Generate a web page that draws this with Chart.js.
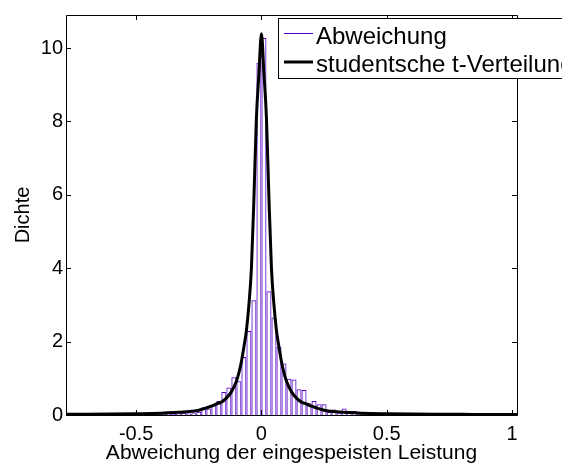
<!DOCTYPE html>
<html lang="de">
<head>
    <meta charset="UTF-8">
    <title>Abweichung der eingespeisten Leistung</title>
    <script src="https://cdn.jsdelivr.net/npm/chart.js"></script>
    <style>
        html, body { margin: 0; padding: 0; background: #fff; }
        #chart-container { width: 562px; height: 465px; }
    </style>
</head>
<body>
    <div id="chart-container">
        <canvas id="densityChart"></canvas>
    </div>

    <script>
        // Histogramm: Klassenmitten (Klassenbreite 0.02) und Dichte
        const binCenters = [
            -0.77, -0.75, -0.73, -0.71, -0.69, -0.67, -0.65, -0.63, -0.61, -0.59,
            -0.57, -0.55, -0.53, -0.51, -0.49, -0.47, -0.45, -0.43, -0.41, -0.39,
            -0.37, -0.35, -0.33, -0.31, -0.29, -0.27, -0.25, -0.23, -0.21, -0.19,
            -0.17, -0.15, -0.13, -0.11, -0.09, -0.07, -0.05, -0.03, -0.01,
            0.01, 0.03, 0.05, 0.07, 0.09, 0.11, 0.13, 0.15, 0.17, 0.19,
            0.21, 0.23, 0.25, 0.27, 0.29, 0.31, 0.33, 0.35, 0.37, 0.39,
            0.41, 0.43, 0.45, 0.47, 0.49, 0.51, 0.53, 0.55, 0.57, 0.59
        ];
        const binDensity = [
            0.01, 0.00, 0.01, 0.00, 0.01, 0.01, 0.00, 0.01, 0.01, 0.01,
            0.01, 0.02, 0.01, 0.02, 0.02, 0.01, 0.02, 0.03, 0.02, 0.03,
            0.04, 0.03, 0.04, 0.06, 0.04, 0.05, 0.09, 0.21, 0.18, 0.29,
            0.38, 0.63, 0.75, 1.03, 0.92, 1.58, 2.29, 3.13, 9.60,
            10.27, 3.37, 2.66, 1.85, 1.40, 0.99, 0.97, 0.70, 0.68, 0.32,
            0.38, 0.29, 0.29, 0.09, 0.15, 0.05, 0.18, 0.11, 0.11, 0.03,
            0.02, 0.03, 0.06, 0.02, 0.02, 0.01, 0.01, 0.01, 0.03, 0.01
        ];

        const curveX = [
            -0.78, -0.7, -0.6, -0.5, -0.4, -0.35, -0.3, -0.25, -0.2, -0.18, -0.16, -0.14, -0.12,
            -0.1, -0.09, -0.08, -0.07, -0.06, -0.05, -0.04, -0.03, -0.02, -0.01,
            0,
            0.01, 0.02, 0.03, 0.04, 0.05, 0.06, 0.07, 0.08, 0.09, 0.1,
            0.12, 0.14, 0.16, 0.18, 0.2, 0.25, 0.3, 0.35, 0.4, 0.5, 0.6, 0.7, 0.8, 0.9, 1.02
        ];
        const curveY = [
            0.02, 0.02, 0.025, 0.035, 0.05, 0.065, 0.09, 0.13, 0.24, 0.30, 0.35, 0.46, 0.63,
            0.92, 1.15, 1.45, 1.85, 2.3, 3.0, 4.0, 5.9, 8.1, 9.3,
            10.39,
            9.3, 8.1, 5.9, 4.0, 3.0, 2.3, 1.85, 1.45, 1.15, 0.92,
            0.63, 0.46, 0.35, 0.30, 0.24, 0.13, 0.09, 0.065, 0.05, 0.035, 0.025, 0.02, 0.018, 0.015, 0.012
        ];

        const xTicks = [-0.5, 0, 0.5, 1];
        const xTickLabels = ['-0.5', '0', '0.5', '1'];
        const yTicks = [0, 2, 4, 6, 8, 10];
        const seriesLabels = ['Abweichung', 'studentsche t-Verteilung'];

        const purple = 'rgb(84, 0, 196)';
        Chart.defaults.font.family = "'Liberation Sans', Arial, sans-serif";
        Chart.defaults.color = '#000';

        // Rahmen mit nach innen zeigenden Ticks (wie bei MATLAB)
        const framePlugin = {
            id: 'frame',
            afterDatasetsDraw(chart) {
                const { ctx, chartArea: a, scales: { x, y } } = chart;
                ctx.save();
                ctx.strokeStyle = '#000';
                ctx.lineWidth = 1;
                ctx.beginPath();
                ctx.rect(a.left + 0.5, a.top + 0.5, a.right - a.left, a.bottom - a.top);
                x.ticks.forEach(t => {
                    const px = Math.round(x.getPixelForValue(t.value)) + 0.5;
                    ctx.moveTo(px, a.bottom); ctx.lineTo(px, a.bottom - 5);
                    ctx.moveTo(px, a.top); ctx.lineTo(px, a.top + 5);
                });
                y.ticks.forEach(t => {
                    const py = Math.round(y.getPixelForValue(t.value)) + 0.5;
                    ctx.moveTo(a.left, py); ctx.lineTo(a.left + 5, py);
                    ctx.moveTo(a.right, py); ctx.lineTo(a.right - 5, py);
                });
                ctx.stroke();
                ctx.restore();
            }
        };

        // Legende oben rechts, ragt wie im Original über den Rand hinaus
        const legendPlugin = {
            id: 'legendBox',
            afterDraw(chart) {
                const ctx = chart.ctx;
                const ds = chart.data.datasets;
                ctx.save();
                ctx.fillStyle = '#fff';
                ctx.fillRect(278, 18, 320, 60);
                ctx.strokeStyle = '#000';
                ctx.lineWidth = 1;
                ctx.strokeRect(278.5, 18.5, 320, 60);
                const rows = [
                    { y: 33.5, d: ds[0], w: 1 },
                    { y: 62, d: ds[1], w: 3 }
                ];
                ctx.font = "24px 'Liberation Sans', Arial, sans-serif";
                ctx.textBaseline = 'alphabetic';
                rows.forEach(r => {
                    ctx.strokeStyle = r.d.borderColor;
                    ctx.lineWidth = r.w;
                    ctx.beginPath();
                    ctx.moveTo(284, r.y);
                    ctx.lineTo(313, r.y);
                    ctx.stroke();
                    ctx.fillStyle = '#000';
                    ctx.fillText(r.d.label, 316, r.y + 10);
                });
                ctx.restore();
            }
        };

        new Chart(document.getElementById('densityChart'), {
            type: 'bar',
            data: {
                datasets: [{
                    type: 'bar',
                    label: seriesLabels[0],
                    data: binCenters.map((c, i) => ({ x: c, y: binDensity[i] })),
                    borderColor: purple,
                    backgroundColor: 'rgba(255,255,255,0)',
                    borderWidth: { left: 1, right: 1, top: 1, bottom: 0 },
                    barPercentage: 1,
                    categoryPercentage: 1,
                    inflateAmount: 0,
                    grouped: false,
                    order: 2
                }, {
                    type: 'line',
                    label: seriesLabels[1],
                    data: curveX.map((v, i) => ({ x: v, y: curveY[i] })),
                    borderColor: '#000',
                    borderWidth: 3,
                    pointRadius: 0,
                    fill: false,
                    cubicInterpolationMode: 'monotone',
                    order: 1
                }]
            },
            options: {
                responsive: true,
                maintainAspectRatio: false,
                animation: false,
                layout: { padding: { left: 0, right: 45, top: 13, bottom: 0 } },
                plugins: {
                    legend: { display: false },
                    tooltip: { enabled: false }
                },
                scales: {
                    x: {
                        type: 'linear',
                        offset: false,
                        min: -0.78,
                        max: 1.02,
                        grid: { display: false, drawTicks: false },
                        border: { display: false },
                        afterBuildTicks: s => { s.ticks = xTicks.map(v => ({ value: v })); },
                        afterFit: s => { s.height = 50; },
                        ticks: {
                            padding: 7,
                            maxRotation: 0,
                            font: { size: 20 },
                            callback: v => xTickLabels[xTicks.indexOf(v)]
                        },
                        title: {
                            display: true,
                            text: 'Abweichung der eingespeisten Leistung',
                            font: { size: 21, lineHeight: 1 },
                            padding: { top: 0, bottom: 1 }
                        }
                    },
                    y: {
                        type: 'linear',
                        min: 0,
                        max: 10.9,
                        grid: { display: false, drawTicks: false },
                        border: { display: false },
                        afterBuildTicks: s => { s.ticks = yTicks.map(v => ({ value: v })); },
                        afterFit: s => { s.width = 66; },
                        ticks: {
                            padding: 3,
                            font: { size: 20 },
                            callback: v => String(v)
                        },
                        title: {
                            display: true,
                            text: 'Dichte',
                            font: { size: 20, lineHeight: 1.2 },
                            padding: { top: 11, bottom: 0 }
                        }
                    }
                }
            },
            plugins: [framePlugin, legendPlugin]
        });
    </script>
</body>
</html>
